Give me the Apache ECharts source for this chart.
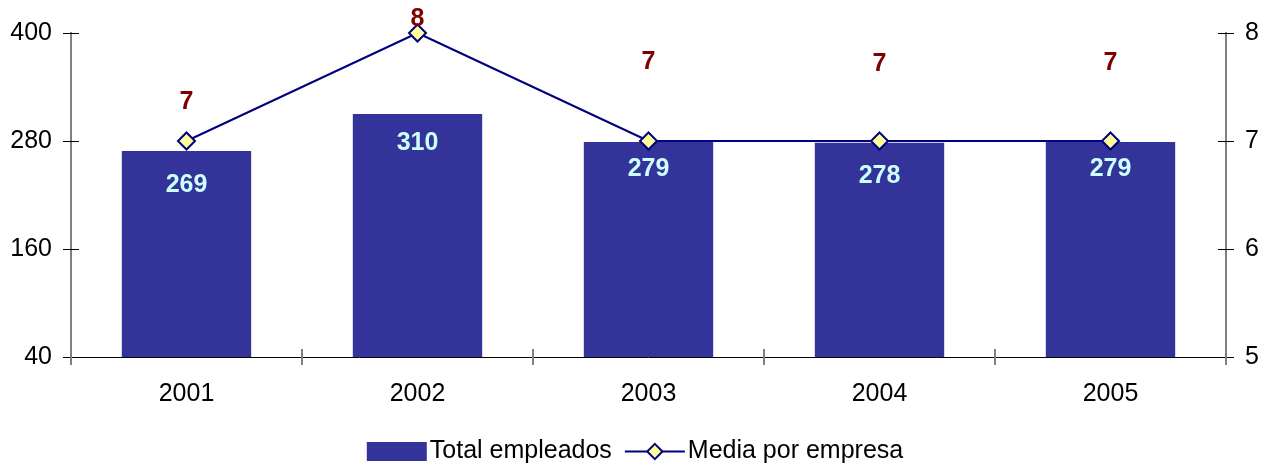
<!DOCTYPE html>
<html><head><meta charset="utf-8">
<script src="https://cdn.jsdelivr.net/npm/echarts@6/dist/echarts.min.js"></script>
<style>html,body{margin:0;padding:0;background:#fff}#c{width:1270px;height:463px}</style>
</head><body><div id="c"></div>
<script>
var categories = ['2001','2002','2003','2004','2005'];
var totalEmpleados = [269, 310, 279, 278, 279];
var mediaPorEmpresa = [7, 8, 7, 7, 7];
var leftTicks = {min: 40, max: 400, interval: 120};
var rightTicks = {min: 5, max: 8, interval: 1};

var barLabelDist = [22, 17, 15, 21, 15];
var lineLabelDist = [17, -8, 57, 55, 56];

var chart = echarts.init(document.getElementById('c'));
var F = 'Liberation Sans, Arial, sans-serif';
var grey = '#808080';
var FS = 25;
function yAx(pos, t, inside, show) {
  return {
    type: 'value', position: pos, min: t.min, max: t.max, interval: t.interval,
    axisLine: {show: true, lineStyle: {color: grey, width: 2}},
    axisTick: {show: true, inside: inside, length: 8, lineStyle: {color: '#000', width: 1}},
    axisLabel: {show: show, color: '#000', fontSize: FS, fontFamily: F, margin: 19},
    splitLine: {show: false}
  };
}
var option = {
  animation: false,
  grid: {left: 71, right: 44, top: 33, bottom: 106},
  legend: {
    top: 434, left: 'center', itemGap: 12, itemWidth: 60, itemHeight: 19,
    textStyle: {fontSize: FS, fontFamily: F, color: '#000', padding: [0, 0, 0, -2]},
    data: [{name: 'Total empleados', icon: 'rect'}, {name: 'Media por empresa'}]
  },
  xAxis: [{
    type: 'category', data: categories, boundaryGap: true,
    axisLine: {lineStyle: {color: '#000', width: 1}},
    axisTick: {show: true, length: 8, lineStyle: {color: grey, width: 2}},
    axisLabel: {color: '#000', fontSize: FS, fontFamily: F, margin: 25}
  }, {
    type: 'category', data: categories, boundaryGap: true, position: 'bottom',
    axisLine: {show: false},
    axisTick: {show: true, inside: true, length: 8, lineStyle: {color: grey, width: 2}},
    axisLabel: {show: false}
  }],
  yAxis: [yAx('left', leftTicks, false, true), yAx('right', rightTicks, false, true),
          yAx('left', leftTicks, true, false), yAx('right', rightTicks, true, false)],
  series: [{
    name: 'Total empleados', type: 'bar', barWidth: '56%', yAxisIndex: 0,
    itemStyle: {color: '#333399'},
    data: totalEmpleados.map(function (v, i) {
      return {value: v, label: {distance: barLabelDist[i]}};
    }),
    label: {show: true, position: 'insideTop', color: '#CCFFFF', fontSize: FS, fontWeight: 'bold', fontFamily: F}
  }, {
    name: 'Media por empresa', type: 'line', yAxisIndex: 1,
    symbol: 'diamond', symbolSize: 17,
    lineStyle: {color: '#000080', width: 2},
    itemStyle: {color: '#FFFF99', borderColor: '#000080', borderWidth: 2},
    data: mediaPorEmpresa.map(function (v, i) {
      return {value: v, label: {distance: lineLabelDist[i]}};
    }),
    label: {show: true, position: 'top', color: '#800000', fontSize: FS, fontWeight: 'bold', fontFamily: F}
  }]
};
chart.setOption(option);
</script></body></html>
